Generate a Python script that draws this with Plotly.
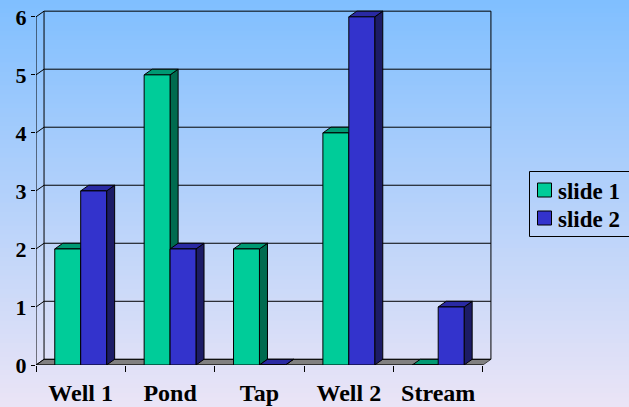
import plotly.graph_objects as go

# ---- data ----
categories = ["Well 1", "Pond", "Tap", "Well 2", "Stream"]
slide1 = [2, 5, 2, 4, 0]
slide2 = [3, 2, 0, 6, 1]
series_names = ["slide 1", "slide 2"]
y_ticks = [0, 1, 2, 3, 4, 5, 6]

# ---- styling ----
FRONT = ["#00CC99", "#3333CC"]
TOP = ["#009973", "#2A2AA3"]
SIDE = ["#006B4F", "#1C1C66"]
FLOOR = "#808080"
EDGE = "#000000"
FONT = "Liberation Serif, Times New Roman, Times, serif"

W, H = 629, 407
ML, MR, MT, MB = 36, 137, 10, 42
PW, PH = W - ML - MR, H - MT - MB

# Pseudo-3D depth of the box, in data units (x: categories, y: value)
DX, DY = 0.09, 0.098
BW = 0.29            # width of one bar within a category
X0, X1 = -0.5, len(categories) - 0.5
YMAX = 6


def px_x(px):
    return (px - ML) / PW


def px_y(py):
    return (H - MB - py) / PH


fig = go.Figure()

# Front faces of the bars
for k, (name, vals) in enumerate(zip(series_names, [slide1, slide2])):
    fig.add_trace(go.Bar(
        x=list(range(len(categories))), y=vals, name=name,
        width=BW, offset=-BW if k == 0 else 0,
        marker=dict(color=FRONT[k], line=dict(color=EDGE, width=1)),
        hoverinfo="skip", showlegend=False,
    ))

shapes = []
annotations = []

# Background gradient (light blue to lavender), as thin horizontal strips
top_rgb = (128, 191, 255)
bot_rgb = (234, 228, 246)
n_strips = 90
py_lo, py_hi = px_y(H), px_y(0)
for i in range(n_strips):
    t = i / (n_strips - 1)
    c = tuple(round(a + (b - a) * t) for a, b in zip(top_rgb, bot_rgb))
    y_top = py_hi - (py_hi - py_lo) * i / n_strips
    y_bot = py_hi - (py_hi - py_lo) * (i + 1) / n_strips
    shapes.append(dict(type="rect", xref="paper", yref="paper",
                       x0=px_x(0), x1=px_x(W),
                       y0=y_bot - 0.002, y1=y_top + 0.002,
                       fillcolor="rgb(%d,%d,%d)" % c, line=dict(width=0),
                       layer="below"))


def poly(pts, fill, lw=1, color=EDGE):
    d = "M " + " L ".join("%.4f,%.4f" % p for p in pts) + " Z"
    return dict(type="path", xref="x", yref="y", path=d, fillcolor=fill,
                line=dict(color=color, width=lw), layer="below")


def seg(xa, ya, xb, yb, color=EDGE, lw=1):
    return dict(type="line", xref="x", yref="y", x0=xa, y0=ya, x1=xb, y1=yb,
                line=dict(color=color, width=lw), layer="below")


# Floor
shapes.append(poly([(X0, 0), (X1, 0), (X1 + DX, DY), (X0 + DX, DY)], FLOOR,
                   color="#404040"))

# Back wall gridlines with their left-wall diagonals
for v in y_ticks:
    shapes.append(seg(X0 + DX, v + DY, X1 + DX, v + DY))
    shapes.append(seg(X0, v, X0 + DX, v + DY))
# Wall edges
shapes.append(seg(X0 + DX, DY, X0 + DX, YMAX + DY))
shapes.append(seg(X1 + DX, DY, X1 + DX, YMAX + DY))
shapes.append(seg(X0, 0, X0, YMAX))

# Top and side faces of each bar
for k, vals in enumerate([slide1, slide2]):
    for i, v in enumerate(vals):
        xl = i - BW if k == 0 else i
        xr = xl + BW
        shapes.append(poly([(xr, 0), (xr, v), (xr + DX, v + DY), (xr + DX, DY)],
                           SIDE[k]))
        shapes.append(poly([(xl, v), (xr, v), (xr + DX, v + DY), (xl + DX, v + DY)],
                           TOP[k]))

# Front edge of the floor
shapes.append(seg(X0, 0, X1, 0))

# Legend box (runs off the right edge of the canvas)
shapes.append(dict(type="rect", xref="paper", yref="paper",
                   x0=px_x(529.5), x1=px_x(W + 20), y0=px_y(236.5), y1=px_y(171.5),
                   line=dict(color="#000000", width=1), fillcolor="rgba(0,0,0,0)",
                   layer="above"))
for k, (name, yc) in enumerate(zip(series_names, [190, 218])):
    shapes.append(dict(type="rect", xref="paper", yref="paper",
                       x0=px_x(537.5), x1=px_x(551.5),
                       y0=px_y(yc + 7), y1=px_y(yc - 7),
                       fillcolor=FRONT[k], line=dict(color="#000000", width=1),
                       layer="above"))
    annotations.append(dict(
        text=name, xref="paper", yref="paper", x=px_x(556), y=px_y(yc + 1),
        xanchor="left", yanchor="middle", showarrow=False,
        font=dict(family=FONT, size=23, color="#000000", weight="bold"),
    ))

fig.update_layout(
    width=W, height=H,
    margin=dict(l=ML, r=MR, t=MT, b=MB, autoexpand=False),
    paper_bgcolor="rgba(0,0,0,0)", plot_bgcolor="rgba(0,0,0,0)",
    barmode="overlay",
    shapes=shapes,
    annotations=annotations,
    showlegend=False,
    xaxis=dict(
        range=[X0, X1 + DX + 0.012],
        tickvals=list(range(len(categories))), ticktext=categories,
        ticks="outside", ticklen=6, tickcolor="rgba(0,0,0,0)",
        ticklabelstandoff=0,
        tickfont=dict(family=FONT, size=24, color="#000000", weight="bold"),
        minor=dict(tickvals=[x + 0.5 for x in range(-1, len(categories))],
                   ticks="outside", ticklen=6, tickcolor="#000000", tickwidth=1),
        showgrid=False, zeroline=False, showline=False, fixedrange=True,
    ),
    yaxis=dict(
        range=[0, YMAX + DY + 0.02],
        tickvals=y_ticks, ticks="outside", ticklen=4, tickcolor="#000000",
        tickfont=dict(family=FONT, size=22, color="#000000", weight="bold"),
        showgrid=False, zeroline=False, showline=False, fixedrange=True,
    ),
)

fig.write_html("out.html")
